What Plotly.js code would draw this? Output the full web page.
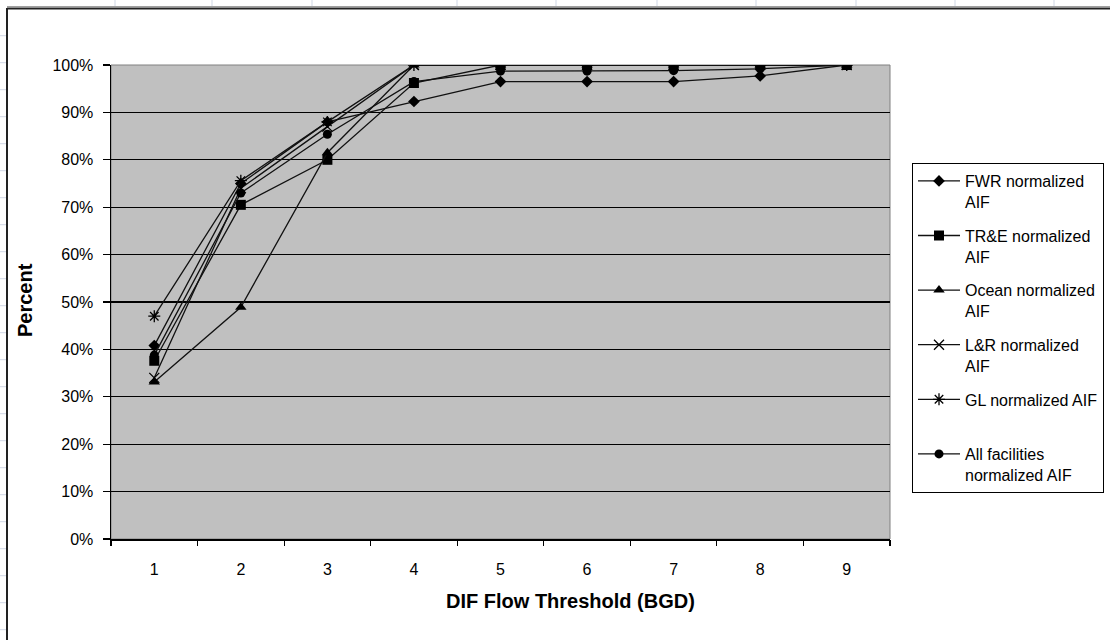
<!DOCTYPE html>
<html>
<head>
<meta charset="utf-8">
<script src="https://cdn.plot.ly/plotly-3.0.1.min.js"></script>
<style>
html,body{margin:0;padding:0;background:#fff;}
#chart{width:1110px;height:640px;}
</style>
</head>
<body>
<div id="chart"></div>
<script>
// ---- data ----
const categories = [1, 2, 3, 4, 5, 6, 7, 8, 9];
const fwr   = [40.8, 75.0, 88.0, 92.3, 96.5, 96.5, 96.5, 97.7, 100];
const tre   = [37.6, 70.5, 80.0, 96.2, 100, 100, 100, 100, 100];
const ocean = [33.1, 48.9, 81.5, 100, 100, 100, 100, 100, 100];
const lr    = [34.0, 74.0, 87.0, 100, 100, 100, 100, 100, 100];
const gl    = [47.0, 75.6, 88.0, 100, 100, 100, 100, 100, 100];
const allf  = [38.8, 73.0, 85.4, 96.5, 98.7, 98.7, 98.8, 99.2, 100];
const seriesNames = [
  "FWR normalized<br>AIF",
  "TR&E normalized<br>AIF",
  "Ocean normalized<br>AIF",
  "L&R normalized<br>AIF",
  "GL normalized AIF<br> ",
  "All facilities<br>normalized AIF"
];
const yTickVals = [0, 0.1, 0.2, 0.3, 0.4, 0.5, 0.6, 0.7, 0.8, 0.9, 1.0];
const yTickText = ["0%", "10%", "20%", "30%", "40%", "50%", "60%", "70%", "80%", "90%", "100%"];

// ---- geometry ----
const W = 1110, H = 640;
const L = 111, R = 890, T = 65, B = 539;
const px2x = p => (p - L) / (R - L);
const py2y = p => (B - p) / (B - T);

const seriesVals = [fwr, tre, ocean, lr, gl, allf];
const symbols = ["diamond", "square", "triangle-up", "x-thin-open", "asterisk-open", "circle"];
const sizes = [9, 10, 10, 10, 10, 9];
const font = "Liberation Sans, Arial, sans-serif";

const traces = seriesVals.map((vals, i) => ({
  type: "scatter",
  mode: "lines+markers",
  x: categories,
  y: vals.map(v => v / 100),
  name: seriesNames[i],
  legendgroup: "g" + i,
  line: {color: "#111", width: 1.3},
  marker: {symbol: symbols[i], size: sizes[i], color: "#000",
           line: {color: "#000", width: (i === 3 || i === 4) ? 1.3 : 0}},
  hoverinfo: "skip"
}));
// invisible trace on overlay axis for category boundary ticks
traces.push({type: "scatter", x: [0.5, 9.5], y: [0, 0], xaxis: "x2", yaxis: "y",
             mode: "none", showlegend: false, hoverinfo: "skip"});

// ---- spreadsheet background decoration ----
const shapes = [];
const gridCol = "#d0d7e5";
[115, 212, 312, 457, 556, 657, 756, 856, 955, 1054].forEach(p => {
  shapes.push({type: "line", xref: "paper", yref: "paper",
    x0: px2x(p), x1: px2x(p), y0: py2y(0), y1: py2y(7),
    line: {color: gridCol, width: 1}, layer: "below"});
});
for (let p = 35.7; p < H; p += 27) {
  shapes.push({type: "line", xref: "paper", yref: "paper",
    x0: px2x(0), x1: px2x(6), y0: py2y(p), y1: py2y(p),
    line: {color: gridCol, width: 1}, layer: "below"});
}
shapes.push({type: "line", xref: "paper", yref: "paper",
  x0: px2x(7), x1: px2x(W + 5), y0: py2y(6.5), y1: py2y(6.5),
  line: {color: "#a0a0a0", width: 1}, layer: "below"});
shapes.push({type: "line", xref: "paper", yref: "paper",
  x0: px2x(7), x1: px2x(W + 5), y0: py2y(8.5), y1: py2y(8.5),
  line: {color: "#222", width: 2}, layer: "below"});
shapes.push({type: "line", xref: "paper", yref: "paper",
  x0: px2x(7), x1: px2x(7), y0: py2y(8), y1: py2y(H + 5),
  line: {color: "#222", width: 2}, layer: "below"});
// plot area gray frame
shapes.push({type: "rect", xref: "paper", yref: "paper", x0: 0, x1: 1, y0: 0, y1: 1,
  line: {color: "#808080", width: 1}, layer: "below"});

const layout = {
  width: W, height: H,
  margin: {l: L, r: W - R, t: T, b: H - B, pad: 0, autoexpand: false},
  paper_bgcolor: "#fff",
  plot_bgcolor: "#c0c0c0",
  font: {family: font, size: 16, color: "#000"},
  showlegend: true,
  xaxis: {
    range: [0.5, 9.5], tickvals: categories, ticktext: categories.map(String),
    ticks: "", ticklabelstandoff: 15, showgrid: false, zeroline: false,
    showline: true, linecolor: "#000", linewidth: 1.5,
    tickfont: {family: font, size: 16, color: "#000"}, fixedrange: true
  },
  xaxis2: {
    overlaying: "x", range: [0.5, 9.5], tickvals: [0.5,1.5,2.5,3.5,4.5,5.5,6.5,7.5,8.5,9.5],
    showticklabels: false, ticks: "outside", ticklen: 6, tickwidth: 1.2, tickcolor: "#000",
    showgrid: false, zeroline: false, showline: false, side: "bottom", anchor: "y", fixedrange: true
  },
  yaxis: {
    range: [0, 1], tickvals: yTickVals, ticktext: yTickText,
    ticks: "outside", ticklen: 7, tickwidth: 1.2, tickcolor: "#000", ticklabelstandoff: 6,
    showgrid: true, gridcolor: "#000", gridwidth: 1.3, zeroline: false,
    showline: true, linecolor: "#000", linewidth: 1.5,
    tickfont: {family: font, size: 16, color: "#000"}, fixedrange: true
  },
  legend: {
    x: px2x(912), y: py2y(163), xanchor: "left", yanchor: "top",
    bgcolor: "#fff", bordercolor: "#000", borderwidth: 1,
    font: {family: font, size: 16, color: "#000"},
    valign: "top", tracegroupgap: 10, itemwidth: 42
  },
  annotations: [
    {text: "<b>DIF Flow Threshold (BGD)</b>", xref: "paper", yref: "paper",
     x: px2x(570), y: py2y(601), xanchor: "center", yanchor: "middle", showarrow: false,
     font: {family: font, size: 20, color: "#000"}},
    {text: "<b>Percent</b>", xref: "paper", yref: "paper", textangle: -90,
     x: px2x(25), y: py2y(300), xanchor: "center", yanchor: "middle", showarrow: false,
     font: {family: font, size: 20, color: "#000"}}
  ],
  shapes: shapes
};

Plotly.newPlot("chart", traces, layout, {displayModeBar: false, staticPlot: true});
</script>
</body>
</html>
